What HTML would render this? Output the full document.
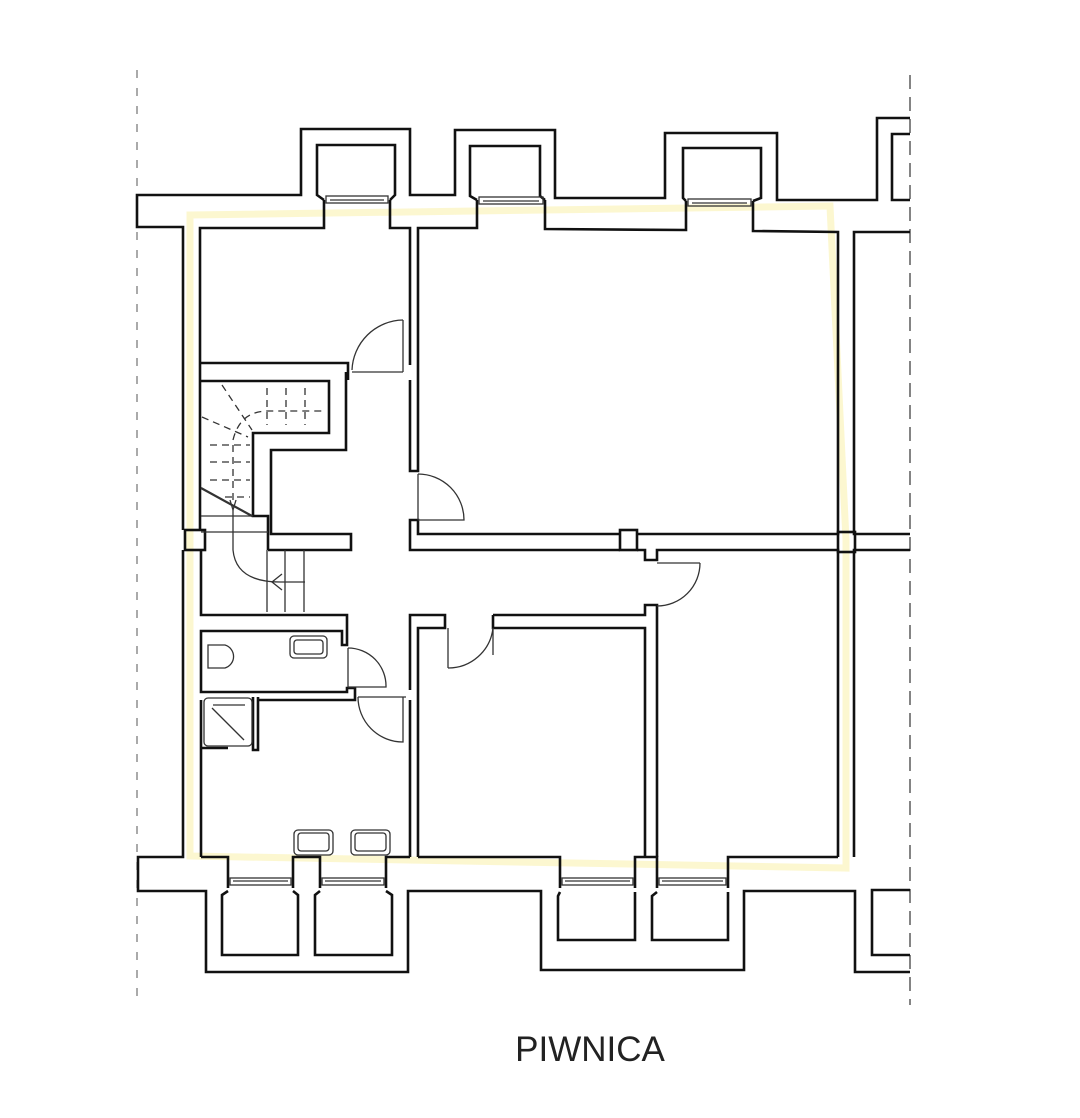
<!DOCTYPE html>
<html><head><meta charset="utf-8"><style>
body{margin:0;background:#fff;}
svg{display:block}
</style></head><body>
<svg width="1080" height="1118" viewBox="0 0 1080 1118" xmlns="http://www.w3.org/2000/svg">
<rect width="1080" height="1118" fill="#fff"/>
<!-- yellow highlight -->
<path d="M190,215 L830,206 L846,540 L846,868 L190,856 Z" fill="none" stroke="#fcf6c8" stroke-width="7" opacity="0.85"/>
<!-- dashed axis lines -->
<line x1="137" y1="70" x2="137" y2="1005" stroke="#555" stroke-width="1" stroke-dasharray="8,10"/>
<line x1="910" y1="75" x2="910" y2="1005" stroke="#333" stroke-width="1.2" stroke-dasharray="14,8"/>
<g fill="none" stroke="#111" stroke-width="2.6" stroke-linejoin="miter">
<path d="M183,530 L183,227 L137,227 L137,195 L301,195 L301,129 L410,129 L410,195 L455,195 L455,130 L555,130 L555,198 L665,198 L665,133 L777,133 L777,200 L877,200 L877,118 L910,118"/>
<path d="M910,134 L892,134 L892,200 L910,200"/>
<path d="M324,200 L317,195 L317,145 L395,145 L395,195 L390,200"/>
<path d="M477,200 L470,196 L470,146 L540,146 L540,196 L545,200"/>
<path d="M686,201 L683,198 L683,148 L761,148 L761,198 L753,201"/>
<path d="M324,200 L324,228 L200,228 L200,530"/>
<path d="M390,200 L390,228 L410,228 L410,365"/>
<path d="M477,200 L477,228 L418,228 L418,471 L410,471 L410,380"/>
<path d="M545,200 L545,229 L686,230 L686,201"/>
<path d="M753,201 L753,231 L838,232 L838,534 L637,534"/>
<path d="M910,232 L854,232 L854,534 L910,534"/>
<path d="M910,550 L854,550 L854,857 "/>
<rect x="838" y="532" width="17" height="20"/>
<rect x="620" y="530" width="17" height="20"/>
<rect x="185" y="530" width="20" height="20"/>
<path d="M200,363 L348,363 L348,380"/>
<path d="M201,381 L329,381 L329,433 L253,433 L253,516 L268,516 L268,550"/>
<path d="M346,372 L346,450 L271,450 L271,534 L351,534 L351,550 L268,550"/>
<path d="M620,534 L418,534 L418,520 L410,520 L410,550 L620,550"/>
<path d="M637,550 L645,550 L645,560 L657,560 L657,550 L838,550 L838,857"/>
<path d="M201,550 L201,615 L347,615 L347,645 L342,645 L342,631 L201,631 L201,692 L347,692 L347,688 L355,688 L355,700 L258,700"/>
<path d="M410,700 L410,857 M418,857 L418,628 L445,628 L445,615 L410,615 L410,690"/>
<path d="M493,615 L493,628 L645,628 L645,857"/>
<path d="M493,615 L645,615 L645,605 L657,605 L657,857"/>
<path d="M201,700 L201,857"/>
<path d="M253,697 L253,750 L258,750 L258,697"/>
<path d="M201,748 L228,748"/>
<path d="M183,550 L183,857 L138,857 L138,891 L206,891 L206,972 L408,972 L408,891 L541,891 L541,970 L744,970 L744,891 L855,891 L855,972 L910,972"/>
<path d="M910,955 L872,955 L872,890 L910,890"/>
<path d="M201,857 L228,857 L228,888 M293,888 L293,857 L320,857 L320,888 M386,888 L386,857 L410,857 M418,857 L560,857 L560,888 M635,888 L635,857 L657,857 L657,888 M728,888 L728,857 L838,857"/>
<path d="M228,891 L222,895 L222,955 L298,955 L298,895 L293,891"/>
<path d="M320,891 L315,895 L315,955 L392,955 L392,895 L386,891"/>
<path d="M560,892 L558,896 L558,940 L635,940 L635,896 L635,892"/>
<path d="M657,892 L652,896 L652,940 L728,940 L728,896 L728,892"/>
</g>
<g fill="none" stroke="#333" stroke-width="1.3">
<rect x="326" y="196" width="62" height="7"/><line x1="330" y1="200" x2="384" y2="200"/>
<rect x="479" y="197" width="64" height="7"/><line x1="483" y1="201" x2="539" y2="201"/>
<rect x="688" y="199" width="63" height="7"/><line x1="692" y1="203" x2="747" y2="203"/>
<rect x="230" y="878" width="61" height="7"/><line x1="233" y1="881" x2="288" y2="881"/>
<rect x="322" y="878" width="62" height="7"/><line x1="325" y1="881" x2="381" y2="881"/>
<rect x="562" y="878" width="71" height="7"/><line x1="565" y1="881" x2="630" y2="881"/>
<rect x="659" y="878" width="67" height="7"/><line x1="662" y1="881" x2="723" y2="881"/>
<line x1="352" y1="372" x2="403" y2="372"/><line x1="403" y1="320" x2="403" y2="372"/>
<path d="M403,320 A52,52 0 0 0 352,370"/>
<line x1="418" y1="474" x2="418" y2="520"/><path d="M418,474 A46,46 0 0 1 464,520 L418,520"/>
<line x1="348" y1="648" x2="348" y2="687"/><path d="M348,648 A38,38 0 0 1 386,687 L348,687"/>
<line x1="358" y1="697" x2="406" y2="697"/><path d="M358,697 A45,45 0 0 0 403,742 L403,697"/>
<line x1="448" y1="628" x2="448" y2="668"/><path d="M493,628 A45,45 0 0 1 448,668"/><line x1="493" y1="628" x2="493" y2="655"/>
<line x1="657" y1="563" x2="700" y2="563"/><path d="M700,563 A43,43 0 0 1 657,606"/>
<path d="M208,645 L225,645 A12,12 0 0 1 225,668 L208,668 Z"/>
<rect x="290" y="636" width="37" height="22" rx="4"/><rect x="294" y="640" width="29" height="14" rx="3"/>
<rect x="204" y="698" width="48" height="48" rx="4"/><line x1="212" y1="708" x2="244" y2="740"/><line x1="213" y1="705" x2="245" y2="705"/>
<rect x="294" y="830" width="39" height="25" rx="4"/><rect x="298" y="833" width="31" height="18" rx="3"/>
<rect x="351" y="830" width="39" height="25" rx="4"/><rect x="355" y="833" width="31" height="18" rx="3"/>
<line x1="201" y1="488" x2="252" y2="516" stroke-width="2.2"/>
<line x1="201" y1="516" x2="253" y2="516"/><line x1="201" y1="532" x2="268" y2="532"/>
<line x1="267" y1="550" x2="267" y2="612"/><line x1="285" y1="550" x2="285" y2="612"/><line x1="304" y1="550" x2="304" y2="612"/>
<path d="M233,510 L233,550 Q236,582 280,582 L305,582"/><path d="M282,574 L272,582 L282,590"/>
<path d="M230,500 L233,510 L236,500"/>
</g>
<g fill="none" stroke="#333" stroke-width="1.3" stroke-dasharray="7,5">
<line x1="267" y1="388" x2="267" y2="425"/><line x1="286" y1="388" x2="286" y2="425"/><line x1="305" y1="388" x2="305" y2="425"/>
<line x1="210" y1="445" x2="250" y2="445"/><line x1="210" y1="462" x2="250" y2="462"/><line x1="210" y1="480" x2="250" y2="480"/><line x1="225" y1="497" x2="250" y2="497"/>
<path d="M233,500 L233,440 Q240,411 268,411 L325,411"/>
<line x1="222" y1="385" x2="252" y2="430"/><line x1="202" y1="417" x2="248" y2="437"/>
</g>
<text x="590" y="1061" text-anchor="middle" font-family="Liberation Sans, sans-serif" font-size="35" fill="#222">PIWNICA</text>
</svg>
</body></html>
